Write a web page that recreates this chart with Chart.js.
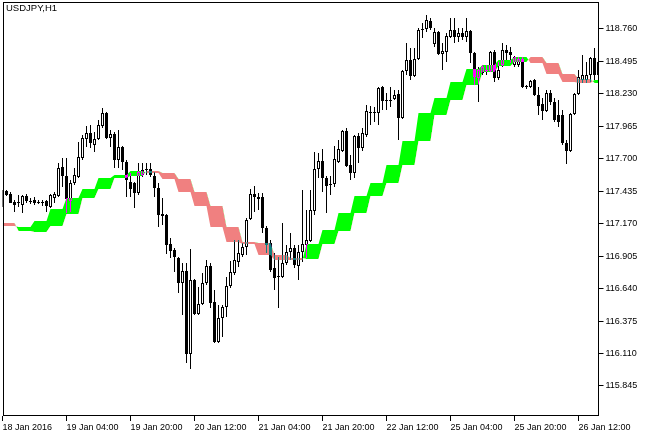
<!DOCTYPE html>
<html>
<head>
<meta charset="utf-8">
<script src="https://cdn.jsdelivr.net/npm/chart.js@4.4.0/dist/chart.umd.min.js"></script>
<style>
  html, body { margin: 0; padding: 0; background: #fff; }
</style>
</head>
<body>
<canvas id="chart" width="651" height="436"></canvas>
<script>
// USDJPY H1, one value per hourly bar (bar 0 = 18 Jan 12:00)
const OPEN = [
  117.429, 117.437, 117.412, 117.347, 117.347, 117.322, 117.396, 117.355, 117.363, 117.347,
  117.347, 117.355, 117.306, 117.380, 117.396, 117.633, 117.559, 117.355, 117.502, 117.551,
  117.706, 117.861, 117.910, 117.812, 117.861, 117.967, 118.073, 117.869, 117.902, 117.690,
  117.796, 117.673, 117.510, 117.502, 117.420, 117.567, 117.608, 117.616, 117.559, 117.461,
  117.249, 117.241, 117.004, 116.955, 116.890, 116.686, 116.784, 116.106, 116.710, 116.433,
  116.514, 116.686, 116.824, 116.530, 116.204, 116.400, 116.490, 116.661, 116.767, 116.857,
  116.914, 116.979, 117.208, 117.412, 117.388, 117.388, 117.135, 117.012, 116.808, 116.743,
  116.735, 116.849, 116.939, 116.971, 116.824, 116.939, 116.996, 117.028, 117.273, 117.616,
  117.682, 117.543, 117.494, 117.494, 117.673, 117.763, 117.927, 117.649, 117.584, 117.886,
  117.788, 117.894, 118.082, 118.082, 118.073, 118.286, 118.180, 118.180, 118.188, 118.229,
  118.033, 118.416, 118.506, 118.376, 118.514, 118.751, 118.759, 118.825, 118.637, 118.735,
  118.555, 118.571, 118.694, 118.751, 118.694, 118.727, 118.694, 118.743, 118.563, 118.359,
  118.400, 118.425, 118.416, 118.571, 118.359, 118.465, 118.588, 118.571, 118.465, 118.465,
  118.514, 118.294, 118.286, 118.343, 118.220, 118.147, 118.090, 118.237, 118.163, 118.057,
  118.057, 117.829, 117.763, 118.065, 118.229, 118.343, 118.343, 118.384, 118.522, 118.384
];
const HIGH = [
  117.445, 117.445, 117.429, 117.363, 117.404, 117.404, 117.412, 117.380, 117.388, 117.363,
  117.363, 117.363, 117.412, 117.429, 117.665, 117.706, 117.706, 117.526, 117.624, 117.837,
  117.894, 117.967, 117.975, 117.918, 118.016, 118.114, 118.082, 117.935, 117.918, 117.935,
  117.804, 117.690, 117.584, 117.510, 117.665, 117.665, 117.665, 117.665, 117.592, 117.502,
  117.380, 117.249, 117.053, 116.971, 116.898, 116.849, 116.849, 116.963, 116.718, 116.653,
  116.767, 116.873, 116.849, 116.628, 116.506, 116.506, 116.735, 116.865, 117.037, 117.037,
  117.012, 117.216, 117.453, 117.477, 117.420, 117.420, 117.151, 117.037, 116.931, 116.898,
  117.175, 116.996, 117.094, 116.996, 116.996, 117.445, 117.282, 117.445, 117.755, 117.747,
  117.780, 117.559, 117.559, 117.804, 117.853, 117.935, 117.951, 117.731, 117.894, 117.910,
  117.951, 118.139, 118.131, 118.122, 118.286, 118.294, 118.237, 118.286, 118.261, 118.261,
  118.425, 118.645, 118.604, 118.604, 118.767, 118.808, 118.874, 118.849, 118.767, 118.743,
  118.645, 118.727, 118.849, 118.849, 118.767, 118.767, 118.849, 118.751, 118.571, 118.449,
  118.465, 118.465, 118.580, 118.588, 118.490, 118.645, 118.629, 118.612, 118.539, 118.531,
  118.531, 118.302, 118.343, 118.351, 118.286, 118.196, 118.261, 118.261, 118.196, 118.180,
  118.098, 117.853, 118.073, 118.237, 118.425, 118.547, 118.490, 118.531, 118.604, 118.596
];
const LOW = [
  117.306, 117.396, 117.339, 117.265, 117.306, 117.257, 117.339, 117.331, 117.322, 117.331,
  117.314, 117.265, 117.298, 117.339, 117.388, 117.469, 117.257, 117.265, 117.486, 117.543,
  117.690, 117.796, 117.788, 117.755, 117.853, 117.951, 117.861, 117.796, 117.624, 117.624,
  117.608, 117.388, 117.388, 117.298, 117.404, 117.551, 117.567, 117.551, 117.388, 117.143,
  117.159, 116.922, 116.890, 116.775, 116.604, 116.424, 116.032, 115.983, 116.424, 116.424,
  116.506, 116.669, 116.481, 116.196, 116.196, 116.245, 116.408, 116.645, 116.751, 116.816,
  116.898, 116.914, 117.200, 117.265, 117.282, 117.094, 116.931, 116.775, 116.628, 116.481,
  116.726, 116.833, 116.873, 116.808, 116.710, 116.857, 116.890, 117.020, 117.241, 117.543,
  117.429, 117.257, 117.404, 117.469, 117.665, 117.755, 117.633, 117.526, 117.543, 117.665,
  117.763, 117.878, 117.975, 118.000, 117.975, 118.098, 118.098, 118.122, 118.180, 117.853,
  118.025, 118.384, 118.343, 118.367, 118.506, 118.686, 118.735, 118.751, 118.612, 118.547,
  118.425, 118.490, 118.686, 118.645, 118.653, 118.669, 118.653, 118.482, 118.302, 118.163,
  118.384, 118.384, 118.408, 118.327, 118.343, 118.449, 118.506, 118.482, 118.449, 118.449,
  118.278, 118.269, 118.278, 118.212, 118.057, 118.016, 118.082, 118.139, 118.000, 117.959,
  117.812, 117.657, 117.755, 118.057, 118.220, 118.318, 118.318, 118.327, 118.343, 118.376
];
const CLOSE = [
  117.331, 117.404, 117.339, 117.322, 117.339, 117.396, 117.355, 117.347, 117.339, 117.339,
  117.339, 117.314, 117.404, 117.412, 117.624, 117.559, 117.371, 117.502, 117.567, 117.714,
  117.869, 117.910, 117.829, 117.861, 117.975, 118.073, 117.869, 117.902, 117.690, 117.796,
  117.673, 117.526, 117.453, 117.420, 117.592, 117.608, 117.616, 117.567, 117.461, 117.241,
  117.233, 116.996, 116.947, 116.898, 116.686, 116.784, 116.106, 116.710, 116.433, 116.514,
  116.686, 116.824, 116.522, 116.204, 116.400, 116.490, 116.661, 116.775, 116.873, 116.931,
  116.979, 117.200, 117.412, 117.388, 117.371, 117.135, 116.996, 116.792, 116.726, 116.735,
  116.849, 116.939, 116.971, 116.833, 116.939, 117.004, 117.037, 117.282, 117.616, 117.682,
  117.543, 117.477, 117.486, 117.698, 117.780, 117.927, 117.641, 117.584, 117.886, 117.788,
  117.910, 118.090, 118.073, 118.073, 118.278, 118.171, 118.171, 118.171, 118.220, 118.033,
  118.416, 118.506, 118.376, 118.514, 118.751, 118.759, 118.833, 118.767, 118.735, 118.555,
  118.580, 118.702, 118.751, 118.694, 118.727, 118.694, 118.743, 118.563, 118.367, 118.425,
  118.449, 118.416, 118.571, 118.359, 118.425, 118.588, 118.563, 118.547, 118.531, 118.514,
  118.286, 118.286, 118.335, 118.220, 118.131, 118.090, 118.237, 118.163, 118.016, 118.000,
  117.829, 117.763, 118.065, 118.229, 118.367, 118.384, 118.384, 118.522, 118.384, 118.490
];

// indicator lines, one value per H4 block (4 hourly bars each); green where fast > slow
const BAND_FAST_H4 = [
  117.151, 117.143, 117.192, 117.290, 117.380, 117.453, 117.543, 117.567, 117.600, 117.584,
  117.535, 117.429, 117.314, 117.143, 117.020, 117.004, 116.914, 116.873, 116.873, 117.004,
  117.118, 117.257, 117.396, 117.502, 117.649, 117.845, 118.073, 118.196, 118.327, 118.433,
  118.465, 118.506, 118.531, 118.482, 118.392, 118.327, 118.318, 118.343
];
const BAND_SLOW_H4 = [
  117.175, 117.110, 117.102, 117.151, 117.249, 117.380, 117.453, 117.543, 117.559, 117.600,
  117.584, 117.535, 117.429, 117.314, 117.143, 117.020, 117.012, 116.914, 116.890, 116.882,
  117.004, 117.110, 117.257, 117.396, 117.502, 117.649, 117.845, 118.057, 118.180, 118.302,
  118.408, 118.457, 118.490, 118.531, 118.482, 118.392, 118.351, 118.318
];

const X_TICKS = ['18 Jan 2016', '19 Jan 04:00', '19 Jan 20:00', '20 Jan 12:00', '21 Jan 04:00',
                 '21 Jan 20:00', '22 Jan 12:00', '25 Jan 04:00', '25 Jan 20:00', '26 Jan 12:00'];
const X_TICK_STEP = 16;
const Y_TICKS = [115.845, 116.110, 116.375, 116.640, 116.905, 117.170,
                 117.435, 117.700, 117.965, 118.230, 118.495, 118.760];

const GREEN = '#00ff00';
const SALMON = '#f08080';

const labels = OPEN.map((_, i) => i);
const isUp = OPEN.map((o, i) => CLOSE[i] >= o);
const bodies = OPEN.map((o, i) => [o, CLOSE[i]]);
const upperWicks = OPEN.map((o, i) => [Math.max(o, CLOSE[i]), HIGH[i]]);
const lowerWicks = OPEN.map((o, i) => [LOW[i], Math.min(o, CLOSE[i])]);
const bandFast = labels.map(i => BAND_FAST_H4[Math.floor(i / 4)]);
const bandSlow = labels.map(i => BAND_SLOW_H4[Math.floor(i / 4)]);

Chart.defaults.font.family = '"Liberation Sans", Arial, sans-serif';
Chart.defaults.font.size = 9;
Chart.defaults.color = '#000';

// candles are drawn inverted over the band, like the terminal does
const terminalLook = {
  id: 'terminalLook',
  beforeDraw(chart) {
    const ctx = chart.ctx;
    ctx.save();
    ctx.fillStyle = '#fff';
    ctx.fillRect(0, 0, chart.width, chart.height);
    ctx.restore();
  },
  beforeDatasetDraw(chart, args) {
    if (chart.data.datasets[args.index].invert) {
      chart.ctx.save();
      chart.ctx.globalCompositeOperation = 'difference';
    }
  },
  afterDatasetDraw(chart, args) {
    if (chart.data.datasets[args.index].invert) chart.ctx.restore();
  },
  afterDraw(chart) {
    const ctx = chart.ctx;
    ctx.save();
    ctx.strokeStyle = '#000';
    ctx.lineWidth = 1;
    ctx.strokeRect(3.5, 2.5, 595, 413);
    ctx.fillStyle = '#000';
    ctx.font = '9.5px "Liberation Sans", Arial, sans-serif';
    ctx.textBaseline = 'top';
    ctx.fillText('USDJPY,H1', 6, 4);
    ctx.restore();
  }
};

const wickStyle = {
  type: 'bar', backgroundColor: '#fff', borderWidth: 0, inflateAmount: 0,
  barThickness: 1, grouped: false, invert: true, order: 1
};

new Chart(document.getElementById('chart'), {
  type: 'bar',
  data: {
    labels: labels,
    datasets: [
      { type: 'line', data: bandFast, fill: { target: '+1', above: GREEN, below: SALMON },
        borderColor: 'rgba(0,0,0,0)', borderWidth: 0, pointRadius: 0, tension: 0, order: 2 },
      { type: 'line', data: bandSlow, fill: false,
        borderColor: 'rgba(0,0,0,0)', borderWidth: 0, pointRadius: 0, tension: 0, order: 2 },
      Object.assign({ data: upperWicks }, wickStyle),
      Object.assign({ data: lowerWicks }, wickStyle),
      { type: 'bar', data: bodies,
        backgroundColor: c => isUp[c.dataIndex] ? 'rgba(0,0,0,0)' : '#fff',
        borderColor: '#fff', borderWidth: 1, borderSkipped: false, inflateAmount: 0,
        barThickness: 3, grouped: false, invert: true, order: 1 }
    ]
  },
  options: {
    responsive: false,
    devicePixelRatio: 1,
    animation: false,
    events: [],
    layout: { padding: { left: 2.5, top: 2, right: 0, bottom: 0 } },
    plugins: { legend: { display: false }, tooltip: { enabled: false } },
    scales: {
      x: {
        type: 'category',
        offset: false,
        grid: { display: true, offset: false, drawOnChartArea: false, drawTicks: true, tickLength: 5, color: '#000' },
        border: { display: false },
        afterBuildTicks: s => { s.ticks = X_TICKS.map((_, k) => ({ value: k * X_TICK_STEP })); },
        afterFit: s => { s.height = 20; s.paddingLeft = 0; s.paddingRight = 0; },
        ticks: {
          autoSkip: false, maxRotation: 0, minRotation: 0, align: 'start', padding: 1,
          callback: (v, i) => X_TICKS[i]
        }
      },
      y: {
        type: 'linear',
        position: 'right',
        min: 115.600,
        max: 118.980,
        grid: { display: true, drawOnChartArea: false, drawTicks: true, tickLength: 5, color: '#000' },
        border: { display: false },
        afterBuildTicks: s => { s.ticks = Y_TICKS.map(v => ({ value: v })); },
        afterFit: s => { s.width = 52.5; s.paddingTop = 0; s.paddingBottom = 0; },
        ticks: { padding: 2, callback: v => v.toFixed(3) }
      }
    }
  },
  plugins: [terminalLook]
});
</script>
</body>
</html>
